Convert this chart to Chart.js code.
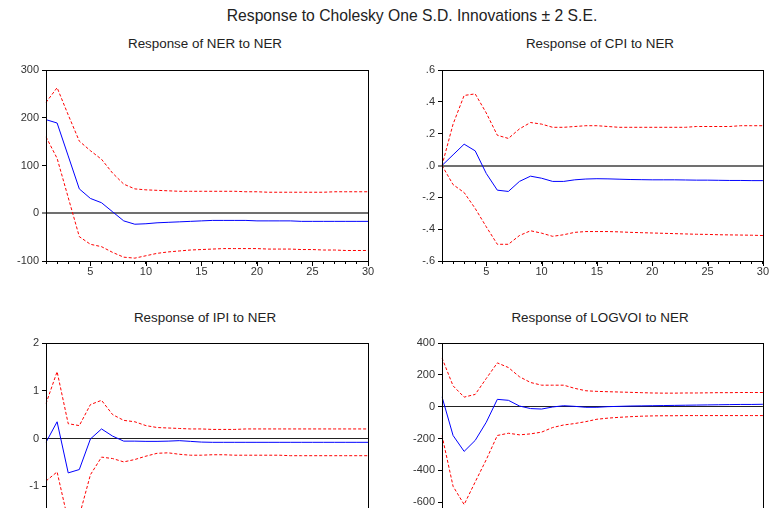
<!DOCTYPE html>
<html>
<head>
<meta charset="utf-8">
<script src="https://cdn.jsdelivr.net/npm/chart.js@4.4.1/dist/chart.umd.min.js"></script>
<style>
  html, body { margin: 0; padding: 0; background: #fff; }
  #page { position: relative; width: 770px; height: 508px; overflow: hidden; font-family: "Liberation Sans", Arial, sans-serif; }
  .ttl { position: absolute; text-align: center; color: #222; white-space: nowrap; }
  .box { position: absolute; width: 385px; height: 234px; }
</style>
</head>
<body>
<div id="page">
  <div class="ttl" style="left:212px;width:400px;top:7px;font-size:15.7px;">Response to Cholesky One S.D. Innovations ± 2 S.E.</div>
  <div class="ttl" style="left:55px;width:300px;top:36px;font-size:13.4px;">Response of NER to NER</div>
  <div class="ttl" style="left:450px;width:300px;top:36px;font-size:13.4px;">Response of CPI to NER</div>
  <div class="ttl" style="left:55px;width:300px;top:310px;font-size:13.4px;">Response of IPI to NER</div>
  <div class="ttl" style="left:450px;width:300px;top:310px;font-size:13.4px;">Response of LOGVOI to NER</div>
  <div class="box" style="left:0;top:56px;"><canvas id="c1"></canvas></div>
  <div class="box" style="left:385px;top:56px;"><canvas id="c2"></canvas></div>
  <div class="box" style="left:0;top:329px;"><canvas id="c3"></canvas></div>
  <div class="box" style="left:385px;top:329px;"><canvas id="c4"></canvas></div>
</div>
<script>
// 期数
const periods = [1,2,3,4,5,6,7,8,9,10,11,12,13,14,15,16,17,18,19,20,21,22,23,24,25,26,27,28,29,30];

// NER -> NER
const nerResp = [196,189,120,51,31,22,3,-16,-23,-22,-20,-19,-18,-17,-16,-15,-15,-15,-15,-16,-16,-16,-16,-17,-17,-17,-17,-17,-17,-17];
const nerUp   = [232,263,206,151,131,113,84,61,51,49,48,47,46,46,46,46,46,46,45,45,44,44,44,44,44,44,45,45,45,45];
const nerLo   = [160,115,33,-49,-65,-70,-82,-92,-94,-89,-84,-81,-79,-77,-76,-75,-74,-74,-74,-74,-75,-75,-75,-76,-76,-77,-77,-78,-78,-78];
const nerTicks = [-100,0,100,200,300];

// CPI -> NER
const cpiResp = [0,0.067,0.134,0.092,-0.05,-0.155,-0.163,-0.10,-0.067,-0.08,-0.10,-0.10,-0.09,-0.085,-0.083,-0.084,-0.086,-0.088,-0.089,-0.09,-0.09,-0.09,-0.091,-0.092,-0.092,-0.093,-0.094,-0.094,-0.095,-0.095];
const cpiUp   = [0,0.26,0.44,0.45,0.33,0.19,0.17,0.23,0.27,0.26,0.24,0.24,0.245,0.25,0.25,0.245,0.24,0.24,0.24,0.24,0.24,0.24,0.24,0.245,0.245,0.245,0.245,0.25,0.25,0.25];
const cpiLo   = [0,-0.12,-0.17,-0.27,-0.385,-0.495,-0.495,-0.44,-0.41,-0.425,-0.445,-0.435,-0.42,-0.415,-0.415,-0.415,-0.417,-0.42,-0.422,-0.424,-0.426,-0.428,-0.43,-0.432,-0.433,-0.435,-0.436,-0.437,-0.438,-0.44];
const cpiTicks = [-0.6,-0.4,-0.2,0,0.2,0.4,0.6];

// IPI -> NER
const ipiResp = [-0.08,0.35,-0.72,-0.65,-0.01,0.20,0.05,-0.055,-0.055,-0.06,-0.06,-0.055,-0.045,-0.06,-0.075,-0.08,-0.08,-0.08,-0.08,-0.08,-0.08,-0.08,-0.08,-0.08,-0.08,-0.08,-0.08,-0.08,-0.08,-0.08];
const ipiUp   = [0.73,1.40,0.31,0.27,0.71,0.80,0.50,0.38,0.35,0.27,0.23,0.22,0.21,0.20,0.20,0.19,0.19,0.19,0.20,0.20,0.20,0.20,0.20,0.20,0.20,0.20,0.20,0.20,0.20,0.20];
const ipiLo   = [-0.89,-0.70,-1.73,-1.62,-0.76,-0.39,-0.42,-0.49,-0.44,-0.37,-0.31,-0.30,-0.33,-0.35,-0.35,-0.34,-0.34,-0.35,-0.35,-0.35,-0.35,-0.35,-0.36,-0.36,-0.36,-0.36,-0.36,-0.36,-0.36,-0.36];
const ipiTicks = [-2,-1,0,1,2];

// LOGVOI -> NER
const voiResp = [62,-181,-281,-212,-98,46,40,4,-12,-15,-2,6,2,-4,-4,0,2,4,5,6,7,8,9,10,11,12,13,14,14,15];
const voiUp   = [306,131,60,77,177,275,246,188,152,135,135,135,115,100,96,94,92,90,88,86,85,85,86,86,87,88,88,89,89,89];
const voiLo   = [-181,-500,-615,-473,-333,-181,-167,-177,-171,-160,-131,-115,-106,-94,-79,-72,-67,-63,-60,-58,-57,-57,-56,-56,-56,-56,-56,-56,-56,-56];
const voiTicks = [-800,-600,-400,-200,0,200,400];

const font = { family: "'Liberation Sans', Arial, sans-serif", size: 11 };

// 边框 + 主刻度
const framePlugin = {
  id: "frame",
  afterDraw(chart) {
    const a = chart.chartArea, ctx = chart.ctx, x = chart.scales.x;
    ctx.save();
    ctx.strokeStyle = "#000";
    ctx.lineWidth = 1;
    ctx.strokeRect(Math.round(a.left) + 0.5, Math.round(a.top) + 0.5, Math.round(a.right - a.left), Math.round(a.bottom - a.top));
    ctx.beginPath();
    periods.forEach((p, i) => {
      if (p % 5 !== 0) return;
      const px = Math.round(x.getPixelForValue(i)) + 0.5;
      ctx.moveTo(px, a.bottom);
      ctx.lineTo(px, a.bottom + 5);
    });
    ctx.stroke();
    ctx.restore();
  }
};

function makeChart(id, resp, up, lo, ticks, fmt, padL, padR, zeroColor, zeroWidth) {
  const red = { borderColor: "#ff0000", borderWidth: 1, borderDash: [3, 2], pointRadius: 0, tension: 0, fill: false };
  return new Chart(document.getElementById(id), {
    type: "line",
    data: {
      labels: periods,
      datasets: [
        Object.assign({ data: up }, red),
        Object.assign({ data: lo }, red),
        { data: resp, borderColor: "#0000ff", borderWidth: 1, pointRadius: 0, tension: 0, fill: false }
      ]
    },
    options: {
      responsive: false,
      animation: false,
      layout: { padding: { left: 0, right: padR, top: 14, bottom: 9 } },
      plugins: { legend: { display: false }, tooltip: { enabled: false } },
      scales: {
        x: {
          type: "category",
          offset: false,
          border: { color: "#000", width: 1 },
          grid: { color: "transparent", tickColor: "#000", tickLength: 3, drawOnChartArea: false },
          ticks: {
            color: "#333", font: font, padding: 1, maxRotation: 0, autoSkip: false,
            callback: (v, i) => (periods[i] % 5 === 0 ? String(periods[i]) : "")
          },
          afterFit: s => { s.height = 20; }
        },
        y: {
          min: ticks[0], max: ticks[ticks.length - 1],
          border: { color: "#000", width: 1 },
          grid: {
            color: c => (c.tick && c.tick.value === 0 ? zeroColor : "transparent"),
            lineWidth: c => (c.tick && c.tick.value === 0 ? zeroWidth : 1),
            tickColor: "#000", tickWidth: 1, tickLength: 4
          },
          ticks: { color: "#333", font: font, padding: 3, callback: v => fmt(v) },
          afterBuildTicks: s => { s.ticks = ticks.map(v => ({ value: v })); },
          afterFit: s => { s.width = padL; }
        }
      }
    },
    plugins: [framePlugin]
  });
}

function sizeCanvas(id) {
  const c = document.getElementById(id);
  c.width = 385; c.height = 234;
  c.style.width = "385px"; c.style.height = "234px";
}
["c1", "c2", "c3", "c4"].forEach(sizeCanvas);

const intFmt = v => String(v);
const decFmt = v => v.toFixed(1).replace("0.", ".");

makeChart("c1", nerResp, nerUp, nerLo, nerTicks, intFmt, 46, 17, "#707070", 2);
makeChart("c2", cpiResp, cpiUp, cpiLo, cpiTicks, decFmt, 57, 6, "#707070", 2);
makeChart("c3", ipiResp, ipiUp, ipiLo, ipiTicks, intFmt, 46, 17, "#222", 1);
makeChart("c4", voiResp, voiUp, voiLo, voiTicks, intFmt, 57, 6, "#222", 1);
</script>
</body>
</html>
